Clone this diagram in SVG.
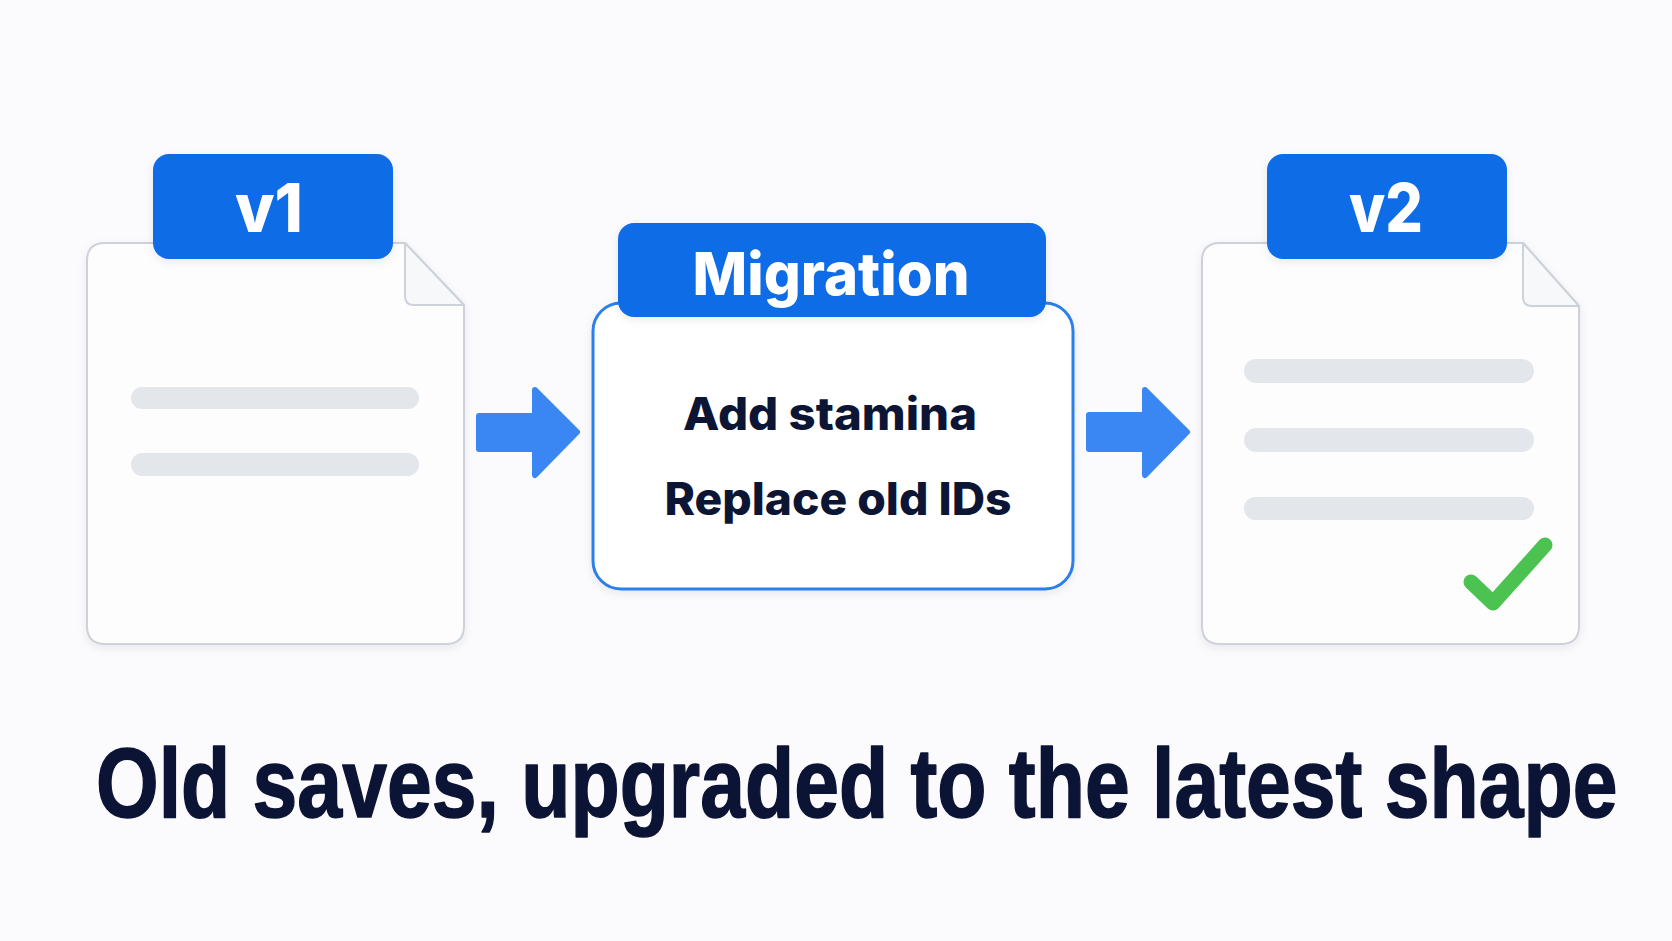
<svg xmlns="http://www.w3.org/2000/svg" width="1672" height="941" viewBox="0 0 1672 941">
  <defs>
    <filter id="sh" x="-10%" y="-10%" width="120%" height="125%">
      <feDropShadow dx="0" dy="3" stdDeviation="4" flood-color="#1e2a4a" flood-opacity="0.08"/>
    </filter>
    <style>
      .doc { fill: #fdfdfe; stroke: #cdd2da; stroke-width: 2; stroke-linejoin: round; }
      .fold { fill: #f7f8fa; stroke: #cdd2da; stroke-width: 2; stroke-linejoin: round; }
      .bar { fill: #e3e6ea; }
      .tab { fill: #0a6ce6; }
      .tabtxt { font-family: Inter, "Open Sans", sans-serif; font-weight: 800; fill: #ffffff; text-anchor: middle; }
      .body { font-family: Inter, "Open Sans", sans-serif; font-weight: 800; fill: #0d1534; text-anchor: middle; font-size: 45px; }
      .arrow { fill: #3a86f2; stroke: #3a86f2; stroke-width: 6; stroke-linejoin: round; }
      .title { font-family: "Liberation Sans", Arial, sans-serif; font-weight: 700; fill: #0c1435; stroke: #0c1435; stroke-width: 1.6; stroke-linejoin: round; font-size: 98px; }
    </style>
  </defs>
  <rect width="1672" height="941" fill="#fbfbfd"/>

  <g id="doc-v1">
    <path class="doc" filter="url(#sh)" d="M105 243 H405 L464 305 V626 Q464 644 446 644 H105 Q87 644 87 626 V261 Q87 243 105 243 Z"/>
    <path class="fold" d="M405 243 V296 Q405 305 414 305 H464 Z"/>
    <rect class="bar" x="131" y="387" width="288" height="22" rx="11"/>
    <rect class="bar" x="131" y="453" width="288" height="23" rx="11.5"/>
    <rect class="tab" filter="url(#sh)" x="153" y="154" width="240" height="105" rx="16"/>
    <text class="tabtxt" x="269" y="232" font-size="67" textLength="68" lengthAdjust="spacingAndGlyphs">v1</text>
  </g>

  <g id="migration">
    <rect x="593" y="303" width="480" height="286" rx="28" fill="#ffffff" stroke="#2b7fea" stroke-width="3" filter="url(#sh)"/>
    <rect class="tab" filter="url(#sh)" x="618" y="223" width="428" height="94" rx="16"/>
    <text class="tabtxt" x="831" y="295" font-size="59" textLength="277" lengthAdjust="spacingAndGlyphs">Migration</text>
    <text class="body" x="830" y="430" textLength="294" lengthAdjust="spacingAndGlyphs">Add stamina</text>
    <text class="body" x="838" y="515" textLength="347" lengthAdjust="spacingAndGlyphs">Replace old IDs</text>
  </g>

  <g id="doc-v2">
    <path class="doc" filter="url(#sh)" d="M1220 243 H1523 L1579 306 V626 Q1579 644 1561 644 H1220 Q1202 644 1202 626 V261 Q1202 243 1220 243 Z"/>
    <path class="fold" d="M1523 243 V297 Q1523 306 1532 306 H1579 Z"/>
    <rect class="bar" x="1244" y="359" width="290" height="24" rx="12"/>
    <rect class="bar" x="1244" y="428" width="290" height="24" rx="12"/>
    <rect class="bar" x="1244" y="497" width="290" height="23" rx="11.5"/>
    <polyline points="1471,582 1493,603 1545,545" fill="none" stroke="#4cc250" stroke-width="15" stroke-linecap="round" stroke-linejoin="round"/>
    <rect class="tab" filter="url(#sh)" x="1267" y="154" width="240" height="105" rx="16"/>
    <text class="tabtxt" x="1386" y="232" font-size="67" textLength="74" lengthAdjust="spacingAndGlyphs">v2</text>
  </g>

  <g id="connectors">
    <path class="arrow" d="M479 416 H535 V390 L577 432 L535 475 V449 H479 Z"/>
    <path class="arrow" d="M1089 415 H1145 V390 L1187 432 L1145 475 V449 H1089 Z"/>
  </g>

  <g id="caption">
    <text class="title" transform="translate(96 817) scale(0.822 1)" x="0" y="0" textLength="1851" lengthAdjust="spacingAndGlyphs">Old saves, upgraded to the latest shape</text>
  </g>
</svg>
